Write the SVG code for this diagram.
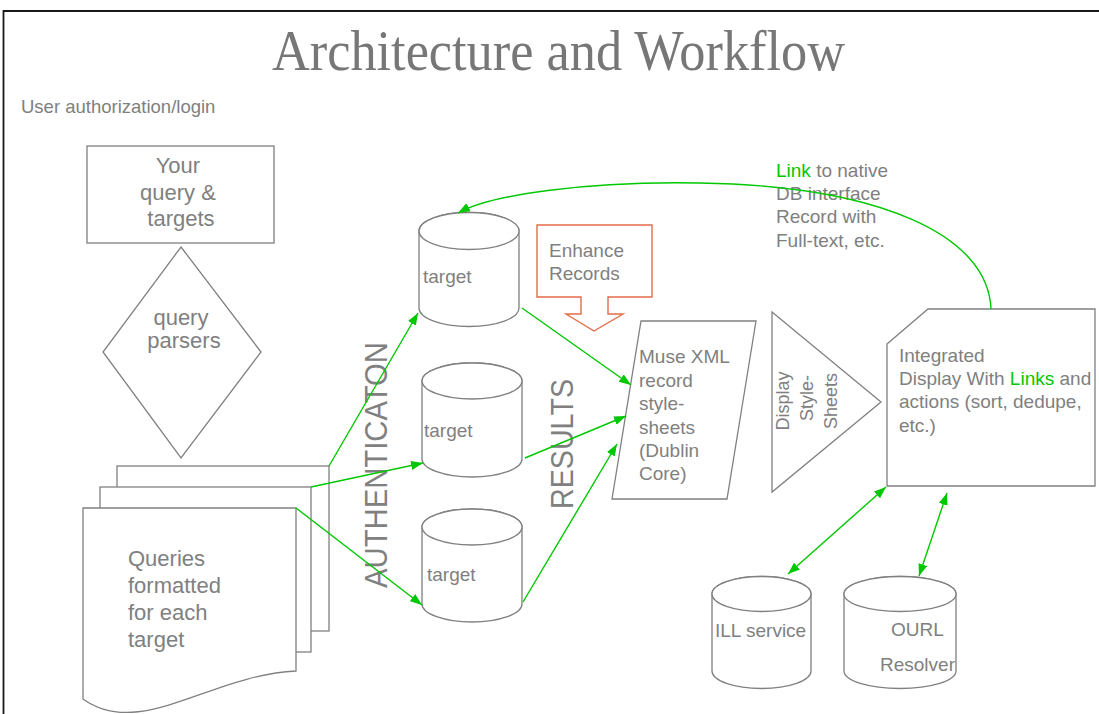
<svg xmlns="http://www.w3.org/2000/svg" width="1099" height="714" viewBox="0 0 1099 714">
  <style>
    .shape { fill: #ffffff; stroke: #808080; stroke-width: 1.3; }
    .txt { font-family: "Liberation Sans", Arial, sans-serif; fill: #808080; }
    .green { fill: #00c800; }
    .link { fill: none; stroke: #00c800; stroke-width: 1.4; }
    .callout { fill: #ffffff; stroke: #e46c4a; stroke-width: 1.4; }
  </style>
  <defs>
    <marker id="head" markerUnits="userSpaceOnUse" markerWidth="13" markerHeight="10" refX="12" refY="4.5" orient="auto-start-reverse">
      <path d="M0,0 L12,4.5 L0,9 z" fill="#00c800"/>
    </marker>
  </defs>

  <rect width="1099" height="714" fill="#ffffff"/>
  <!-- page frame -->
  <path d="M3.5,714 V11 H1099" fill="none" stroke="#1a1a1a" stroke-width="1.8"/>

  <!-- title and heading -->
  <text x="272" y="70" font-family="'Liberation Serif', 'Times New Roman', serif" font-size="58" fill="#777777" textLength="573" lengthAdjust="spacingAndGlyphs">Architecture and Workflow</text>
  <text class="txt" x="21" y="113" font-size="18.5">User authorization/login</text>

  <!-- query & targets -->
  <g id="query-box">
    <rect class="shape" x="87" y="146" width="187" height="97"/>
    <text class="txt" font-size="22" text-anchor="middle">
      <tspan x="181" y="173">Your</tspan>
      <tspan x="181" y="200">query &amp;</tspan>
      <tspan x="181" y="226">targets</tspan>
    </text>
  </g>

  <!-- query parsers -->
  <g id="query-parsers">
    <polygon class="shape" points="181,247 261,352 181,458 103,352"/>
    <text class="txt" font-size="22" text-anchor="middle">
      <tspan x="184" y="325">query</tspan>
      <tspan x="184" y="348">parsers</tspan>
    </text>
  </g>

  <!-- stacked query documents -->
  <g id="queries">
    <rect class="shape" x="117" y="466" width="212" height="165"/>
    <rect class="shape" x="100" y="487" width="211" height="165"/>
    <path class="shape" d="M83,508 H296 V671 C210,675 140,740 83,699 Z"/>
    <text class="txt" font-size="22">
      <tspan x="128" y="566">Queries</tspan>
      <tspan x="128" y="593">formatted</tspan>
      <tspan x="128" y="620">for each</tspan>
      <tspan x="128" y="647">target</tspan>
    </text>
  </g>

  <!-- authentication / results labels -->
  <text class="txt" font-size="32" transform="translate(387,588) rotate(-90)" textLength="246" lengthAdjust="spacingAndGlyphs">AUTHENTICATON</text>
  <text class="txt" font-size="31" transform="translate(573,509) rotate(-90)" textLength="130" lengthAdjust="spacingAndGlyphs">RESULTS</text>

  <!-- target databases -->
  <g id="target-1">
    <path class="shape" d="M419,231 V308 A50,18.5 0 0 0 519,308 V231 A50,18.5 0 0 0 419,231 Z"/>
    <ellipse class="shape" cx="469" cy="231" rx="50" ry="18.5"/>
    <text class="txt" x="423" y="283" font-size="19">target</text>
  </g>
  <g id="target-2">
    <path class="shape" d="M422,381 V459 A50,18 0 0 0 522,459 V381 A50,18 0 0 0 422,381 Z"/>
    <ellipse class="shape" cx="472" cy="381" rx="50" ry="18"/>
    <text class="txt" x="424" y="437" font-size="19">target</text>
  </g>
  <g id="target-3">
    <path class="shape" d="M422,527 V604 A50,18 0 0 0 522,604 V527 A50,18 0 0 0 422,527 Z"/>
    <ellipse class="shape" cx="472" cy="527" rx="50" ry="18"/>
    <text class="txt" x="427" y="581" font-size="19">target</text>
  </g>

  <!-- enhance records callout -->
  <g id="enhance-records">
    <polygon class="callout" points="537,225 652,225 652,297 608,297 608,314 623,314 594,331 566,314 581,314 581,297 537,297"/>
    <text class="txt" font-size="19">
      <tspan x="549" y="257">Enhance</tspan>
      <tspan x="549" y="280">Records</tspan>
    </text>
  </g>

  <!-- Muse XML record style-sheets -->
  <g id="muse-xml">
    <polygon class="shape" points="641,321 756,321 727,499 612,499"/>
    <text class="txt" font-size="19">
      <tspan x="639" y="363">Muse XML</tspan>
      <tspan x="639" y="387">record</tspan>
      <tspan x="639" y="410">style-</tspan>
      <tspan x="639" y="434">sheets</tspan>
      <tspan x="639" y="457">(Dublin</tspan>
      <tspan x="639" y="480">Core)</tspan>
    </text>
  </g>

  <!-- display style-sheets -->
  <g id="display-stylesheets">
    <polygon class="shape" points="772,312 881,402 772,492"/>
    <text class="txt" font-size="18" text-anchor="middle" transform="translate(789,401) rotate(-90)">Display</text>
    <text class="txt" font-size="18" text-anchor="middle" transform="translate(813,398) rotate(-90)">Style-</text>
    <text class="txt" font-size="18" text-anchor="middle" transform="translate(837,401) rotate(-90)">Sheets</text>
  </g>

  <!-- integrated display -->
  <g id="integrated-display">
    <polygon class="shape" points="887,344 928,309 1095,309 1095,486 887,486"/>
    <text class="txt" font-size="19">
      <tspan x="899" y="362">Integrated</tspan>
      <tspan x="899" y="385">Display With <tspan class="green">Links</tspan> and</tspan>
      <tspan x="899" y="408">actions (sort, dedupe,</tspan>
      <tspan x="899" y="432">etc.)</tspan>
    </text>
  </g>

  <!-- ILL service -->
  <g id="ill-service">
    <path class="shape" d="M712,594 V671 A49.5,17.5 0 0 0 811,671 V594 A49.5,17.5 0 0 0 712,594 Z"/>
    <ellipse class="shape" cx="761.5" cy="594" rx="49.5" ry="17.5"/>
    <text class="txt" x="715" y="637" font-size="19">ILL service</text>
  </g>

  <!-- OpenURL resolver -->
  <g id="ourl-resolver">
    <path class="shape" d="M844,594 V671 A56,17.5 0 0 0 956,671 V594 A56,17.5 0 0 0 844,594 Z"/>
    <ellipse class="shape" cx="900" cy="594" rx="56" ry="17.5"/>
    <text class="txt" x="891" y="636" font-size="19">OURL</text>
    <text class="txt" x="880" y="671" font-size="19">Resolver</text>
  </g>

  <!-- native link note -->
  <g id="native-link-note">
    <text class="txt" font-size="19">
      <tspan x="776" y="177"><tspan class="green">Link</tspan> to native</tspan>
      <tspan x="776" y="200">DB interface</tspan>
      <tspan x="776" y="223">Record with</tspan>
      <tspan x="776" y="247">Full-text, etc.</tspan>
    </text>
  </g>

  <!-- connectors -->
  <g id="connectors">
    <line class="link" x1="329" y1="466" x2="418" y2="313" marker-end="url(#head)"/>
    <line class="link" x1="311" y1="487" x2="423" y2="463" marker-end="url(#head)"/>
    <line class="link" x1="296" y1="508" x2="422" y2="605" marker-end="url(#head)"/>
    <line class="link" x1="522" y1="308" x2="631" y2="385" marker-end="url(#head)"/>
    <line class="link" x1="525" y1="458" x2="626" y2="416" marker-end="url(#head)"/>
    <line class="link" x1="523" y1="602" x2="617" y2="444" marker-end="url(#head)"/>
    <line class="link" x1="788" y1="574" x2="886" y2="487" marker-start="url(#head)" marker-end="url(#head)"/>
    <line class="link" x1="919" y1="576" x2="947" y2="493" marker-start="url(#head)" marker-end="url(#head)"/>
    <path class="link" d="M991,309 C988,235 880,186 700,183 C585,181 490,195 458,213" marker-end="url(#head)"/>
  </g>
</svg>
